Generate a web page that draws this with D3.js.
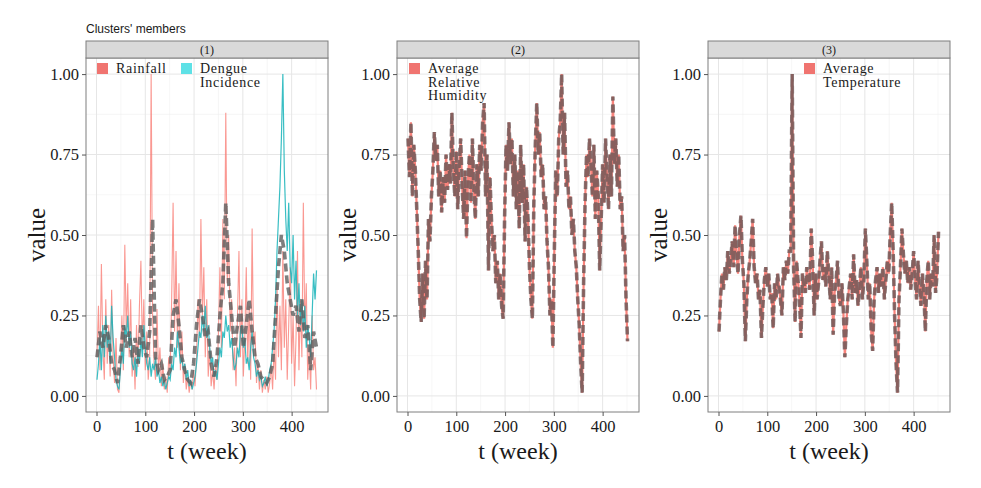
<!DOCTYPE html>
<html>
<head>
<meta charset="utf-8">
<script src="https://cdn.jsdelivr.net/npm/d3@7"></script>
<style>
  body { margin: 0; background: #fff; }
  svg text { font-family: "Liberation Serif", "DejaVu Serif", serif; fill: #1a1a1a; }
</style>
</head>
<body>
<div class="canvas"></div>
<script>
// ---- data ----
// members are sampled every 3 weeks starting at week 1, cluster centre every 6 weeks
const memberStep = 3;
const centreStep = 6;

const rainfall = [0.12,0.28,0.08,0.41,0.15,0.05,0.30,0.10,0.22,0.06,
  0.33,0.12,0.04,0.18,0.02,0.01,0.10,0.25,0.08,0.47,
  0.20,0.35,0.12,0.30,0.06,0.15,0.02,0.22,0.09,0.28,
  0.42,0.15,0.30,0.08,0.20,0.05,0.12,1.00,0.25,0.10,
  0.05,0.27,0.08,0.15,0.03,0.10,0.02,0.06,0.01,0.12,
  0.08,0.30,0.60,0.20,0.45,0.15,0.35,0.08,0.20,0.04,
  0.10,0.02,0.06,0.01,0.05,0.02,0.08,0.03,0.12,0.30,
  0.18,0.55,0.25,0.40,0.12,0.30,0.06,0.15,0.03,0.08,
  0.02,0.10,0.05,0.20,0.40,0.15,0.55,0.30,0.88,0.35,
  0.50,0.20,0.30,0.08,0.15,0.03,0.25,0.45,0.12,0.30,
  0.06,0.18,0.40,0.10,0.28,0.05,0.52,0.15,0.20,0.04,
  0.10,0.02,0.08,0.01,0.05,0.02,0.06,0.01,0.04,0.10,
  0.02,0.15,0.05,0.35,0.12,0.28,0.08,0.45,0.15,0.30,
  0.05,0.22,0.40,0.10,0.25,0.03,0.18,0.45,0.08,0.30,
  0.12,0.60,0.20,0.35,0.05,0.15,0.02,0.25,0.08,0.12,
  0.02];

const dengue = [0.05,0.10,0.18,0.08,0.22,0.12,0.25,0.15,0.20,0.10,
  0.28,0.18,0.12,0.05,0.03,0.02,0.08,0.15,0.10,0.22,
  0.18,0.25,0.15,0.20,0.10,0.08,0.12,0.06,0.15,0.10,
  0.18,0.12,0.22,0.15,0.10,0.08,0.12,0.06,0.10,0.08,
  0.12,0.06,0.08,0.04,0.06,0.03,0.05,0.02,0.04,0.06,
  0.05,0.10,0.08,0.15,0.12,0.20,0.15,0.10,0.12,0.08,
  0.10,0.05,0.08,0.03,0.05,0.02,0.04,0.06,0.10,0.15,
  0.20,0.18,0.25,0.20,0.28,0.18,0.22,0.15,0.10,0.12,
  0.06,0.08,0.05,0.10,0.15,0.12,0.20,0.18,0.25,0.20,
  0.22,0.15,0.18,0.12,0.08,0.10,0.15,0.12,0.20,0.22,
  0.15,0.18,0.10,0.12,0.08,0.15,0.20,0.12,0.10,0.06,
  0.08,0.05,0.06,0.03,0.04,0.06,0.03,0.05,0.08,0.10,
  0.15,0.20,0.30,0.45,0.55,0.65,0.80,1.00,0.70,0.55,
  0.45,0.60,0.40,0.35,0.50,0.30,0.42,0.25,0.35,0.22,
  0.30,0.20,0.28,0.15,0.22,0.18,0.12,0.25,0.38,0.30,
  0.39];

// centre of cluster (1)
const centre1 = [0.12,0.20,0.15,0.22,0.18,0.10,0.08,0.04,0.12,0.22,
  0.15,0.20,0.12,0.18,0.10,0.22,0.15,0.12,0.20,0.55,
  0.12,0.08,0.10,0.05,0.06,0.08,0.25,0.30,0.22,0.12,
  0.08,0.05,0.04,0.10,0.22,0.30,0.25,0.18,0.20,0.10,
  0.06,0.12,0.25,0.35,0.60,0.35,0.25,0.15,0.22,0.28,
  0.15,0.22,0.30,0.20,0.12,0.10,0.06,0.05,0.04,0.06,
  0.10,0.25,0.40,0.50,0.45,0.35,0.30,0.25,0.28,0.20,
  0.30,0.18,0.22,0.08,0.20,0.15];

const humidity = [0.80,0.68,0.85,0.62,0.78,0.70,0.58,0.45,0.30,0.23,
  0.38,0.24,0.42,0.30,0.55,0.48,0.62,0.70,0.82,0.73,
  0.78,0.62,0.70,0.57,0.68,0.60,0.75,0.64,0.72,0.66,
  0.88,0.70,0.62,0.76,0.58,0.72,0.80,0.65,0.55,0.70,
  0.49,0.68,0.75,0.60,0.80,0.64,0.55,0.72,0.62,0.78,
  0.70,0.85,0.91,0.62,0.75,0.39,0.68,0.55,0.45,0.50,
  0.35,0.42,0.30,0.38,0.28,0.24,0.55,0.78,0.70,0.85,
  0.72,0.80,0.62,0.75,0.58,0.70,0.52,0.78,0.60,0.72,
  0.48,0.65,0.55,0.40,0.30,0.24,0.60,0.78,0.91,0.75,
  0.82,0.68,0.72,0.58,0.62,0.48,0.40,0.25,0.30,0.15,
  0.45,0.70,0.62,0.80,0.85,1.00,0.75,0.88,0.65,0.70,
  0.58,0.62,0.50,0.55,0.45,0.40,0.30,0.22,0.10,0.01,
  0.35,0.60,0.75,0.68,0.80,0.72,0.62,0.78,0.55,0.70,
  0.62,0.39,0.55,0.72,0.60,0.80,0.68,0.58,0.75,0.62,
  0.93,0.72,0.80,0.65,0.75,0.58,0.62,0.45,0.50,0.30,
  0.17];

const temperature = [0.20,0.30,0.38,0.33,0.40,0.36,0.45,0.38,0.42,0.48,
  0.40,0.53,0.44,0.38,0.50,0.56,0.42,0.35,0.17,0.30,
  0.38,0.42,0.48,0.55,0.40,0.35,0.38,0.30,0.33,0.18,
  0.28,0.36,0.40,0.34,0.38,0.30,0.32,0.21,0.35,0.30,
  0.38,0.34,0.30,0.25,0.40,0.36,0.42,0.38,0.45,0.45,
  1.00,0.40,0.23,0.42,0.36,0.30,0.18,0.38,0.35,0.32,
  0.40,0.36,0.33,0.52,0.42,0.25,0.38,0.30,0.35,0.42,
  0.48,0.36,0.40,0.34,0.45,0.38,0.30,0.40,0.19,0.32,
  0.36,0.42,0.30,0.28,0.35,0.26,0.12,0.22,0.30,0.34,
  0.38,0.30,0.44,0.32,0.36,0.28,0.34,0.40,0.30,0.36,
  0.52,0.42,0.30,0.35,0.20,0.14,0.30,0.36,0.40,0.32,
  0.38,0.34,0.40,0.30,0.36,0.42,0.38,0.50,0.60,0.45,
  0.25,0.10,0.01,0.30,0.40,0.52,0.44,0.38,0.42,0.35,
  0.40,0.33,0.38,0.45,0.36,0.30,0.42,0.34,0.28,0.38,
  0.32,0.20,0.36,0.42,0.30,0.38,0.34,0.50,0.32,0.38,
  0.51];

const stripLabels = ['(1)', '(2)', '(3)'];
const xTicks = [0, 100, 200, 300, 400];
const yTicks = [0, 0.25, 0.5, 0.75, 1];
const weekRange = [1, 452];

// ---- layout ----
const red = '#F8766D';
const panelLeft = [86, 397, 708];
const panelW = 242;
const stripTop = 41, panelTop = 58, panelBottom = 412;
const panelH = panelBottom - panelTop;

const panels = [
  { members: [{ v: rainfall, c: red, w: 1.1, o: 0.75 }, { v: dengue, c: '#16b3b9', w: 1.2, o: 0.85 }],
    centre: centre1, cStep: centreStep, cColor: '#5e5e5e',
    legend: [{ c: '#f07470', x: 11, lines: ['Rainfall'] }, { c: '#5ee1e6', x: 95, lines: ['Dengue', 'Incidence'] }] },
  { members: [{ v: humidity, c: red, w: 2.2, o: 0.9 }],
    centre: humidity, cStep: memberStep, cColor: '#6a5656',
    legend: [{ c: '#f07470', x: 12, lines: ['Average', 'Relative', 'Humidity'] }] },
  { members: [{ v: temperature, c: red, w: 2.2, o: 0.9 }],
    centre: temperature, cStep: memberStep, cColor: '#6a5656',
    legend: [{ c: '#f07470', x: 96, lines: ['Average', 'Temperature'] }] }
];

const svg = d3.select('.canvas').append('svg')
  .attr('width', 981)
  .attr('height', 488);

svg.append('text')
  .attr('x', 86).attr('y', 33)
  .style('font-family', '"Liberation Sans", Arial, sans-serif')
  .style('font-size', '12px')
  .text("Clusters' members");

// scales (ggplot style 5% expansion)
const pad = (weekRange[1] - weekRange[0]) * 0.05;
const x = d3.scaleLinear()
  .domain([weekRange[0] - pad, weekRange[1] + pad])
  .range([0, panelW]);
const y = d3.scaleLinear()
  .domain([-0.05, 1.05])
  .range([panelH, 0]);

const line = d3.line()
  .x(d => x(d[0]))
  .y(d => y(d[1]));

panels.forEach((p, i) => {
  const g = svg.append('g')
    .attr('transform', `translate(${panelLeft[i]}, ${panelTop})`);

  g.append('clipPath').attr('id', 'clip' + i)
    .append('rect').attr('width', panelW).attr('height', panelH);

  // grid
  const grid = g.append('g');
  [50, 150, 250, 350, 450].forEach(t => grid.append('line')
    .attr('x1', x(t)).attr('x2', x(t)).attr('y1', 0).attr('y2', panelH)
    .attr('stroke', '#f0f0f0').attr('stroke-width', 0.6));
  [0.125, 0.375, 0.625, 0.875].forEach(t => grid.append('line')
    .attr('x1', 0).attr('x2', panelW).attr('y1', y(t)).attr('y2', y(t))
    .attr('stroke', '#f0f0f0').attr('stroke-width', 0.6));
  xTicks.forEach(t => grid.append('line')
    .attr('x1', x(t)).attr('x2', x(t)).attr('y1', 0).attr('y2', panelH)
    .attr('stroke', '#e6e6e6').attr('stroke-width', 1));
  yTicks.forEach(t => grid.append('line')
    .attr('x1', 0).attr('x2', panelW).attr('y1', y(t)).attr('y2', y(t))
    .attr('stroke', '#e6e6e6').attr('stroke-width', 1));

  const plot = g.append('g').attr('clip-path', `url(#clip${i})`);

  // member series
  p.members.forEach(m => {
    plot.append('path')
      .datum(m.v.map((v, j) => [weekRange[0] + j * memberStep, v]))
      .attr('d', line)
      .attr('fill', 'none')
      .attr('stroke', m.c)
      .attr('stroke-width', m.w)
      .attr('stroke-opacity', m.o);
  });

  // cluster centre (dashed)
  plot.append('path')
    .datum(p.centre.map((v, j) => [weekRange[0] + j * p.cStep, v]))
    .attr('d', line)
    .attr('fill', 'none')
    .attr('stroke', p.cColor)
    .attr('stroke-width', 3.6)
    .attr('stroke-opacity', 0.8)
    .attr('stroke-dasharray', '8,4');

  // legend inside panel
  p.legend.forEach(l => {
    g.append('rect')
      .attr('x', l.x).attr('y', 5)
      .attr('width', 11).attr('height', 11)
      .attr('fill', l.c);
    l.lines.forEach((t, k) => g.append('text')
      .attr('x', l.x + 19).attr('y', 15 + k * 13.5)
      .style('font-size', '14px')
      .style('letter-spacing', '0.7px')
      .text(t));
  });

  // panel border
  g.append('rect')
    .attr('width', panelW).attr('height', panelH)
    .attr('fill', 'none').attr('stroke', '#7f7f7f').attr('stroke-width', 1);

  // strip
  g.append('rect')
    .attr('y', stripTop - panelTop)
    .attr('width', panelW).attr('height', panelTop - stripTop)
    .attr('fill', '#d9d9d9').attr('stroke', '#7f7f7f').attr('stroke-width', 1);
  g.append('text')
    .attr('x', panelW / 2).attr('y', -4)
    .attr('text-anchor', 'middle')
    .style('font-size', '12px')
    .text(stripLabels[i]);

  // axes
  const xAxis = d3.axisBottom(x).tickValues(xTicks).tickSize(4).tickPadding(4);
  const yAxis = d3.axisLeft(y).tickValues(yTicks).tickFormat(d3.format('.2f')).tickSize(4).tickPadding(3);
  const xg = g.append('g').attr('transform', `translate(0, ${panelH})`).call(xAxis);
  const yg = g.append('g').call(yAxis);
  [xg, yg].forEach(a => {
    a.select('.domain').remove();
    a.selectAll('line').attr('stroke', '#555');
    a.selectAll('text')
      .style('font-family', '"Liberation Serif", serif')
      .style('font-size', '16.5px')
      .attr('fill', '#1a1a1a');
  });

  // axis titles
  g.append('text')
    .attr('x', panelW / 2).attr('y', panelH + 47)
    .attr('text-anchor', 'middle')
    .style('font-size', '24px')
    .text('t (week)');
  g.append('text')
    .attr('transform', `translate(-41, ${panelH / 2}) rotate(-90)`)
    .attr('text-anchor', 'middle')
    .style('font-size', '25px')
    .text('value');
});
</script>
</body>
</html>
